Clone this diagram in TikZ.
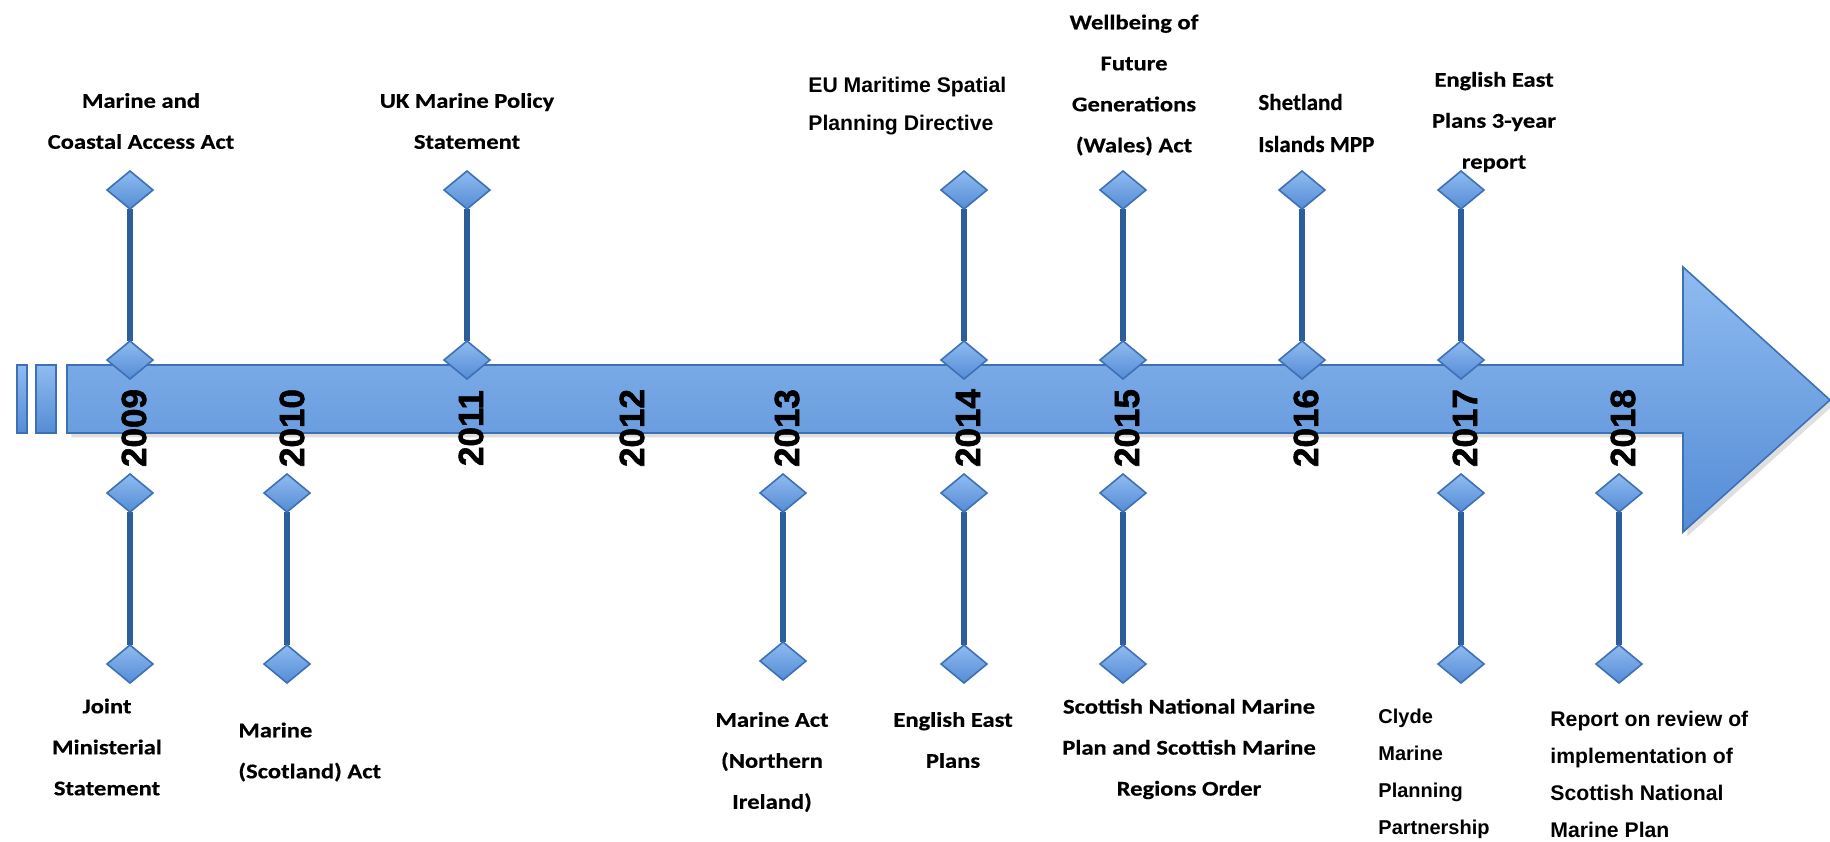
\documentclass[tikz,border=0pt]{standalone}
\usepackage{fontspec}
\usetikzlibrary{shapes.geometric,shadows,backgrounds}
\newfontfamily\calibwide[FakeStretch=1.17, FakeBold=0.4]{Carlito}
\newfontfamily\calibplain[FakeBold=0.4]{Carlito}
\newfontfamily\arialfont{Liberation Sans}
\newfontfamily\yearfont[FakeBold=1.6]{Liberation Sans Bold}
\definecolor{barTop}{RGB}{143,187,240}
\definecolor{barBottom}{RGB}{84,140,214}
\definecolor{barEdge}{RGB}{62,112,180}
\definecolor{stemBlue}{RGB}{44,93,157}

\begin{document}
\begin{tikzpicture}[
  x = 0.5pt, y = -0.5pt,
  event/.style = {
    shape = diamond,
    draw = barEdge,
    line width = 0.8pt,
    top color = barTop,
    bottom color = barBottom,
    minimum width = 23pt,
    minimum height = 19pt,
    inner sep = 0pt,
    outer sep = 0pt,
  },
  stem/.style = {draw = stemBlue, line width = 2.6pt},
  yearlabel/.style = {
    rotate = 90,
    inner sep = 0pt,
    font = \yearfont\fontsize{17.5}{20}\selectfont,
  },
  note/.style = {
    align = center,
    inner sep = 0pt,
    font = \calibwide\bfseries\fontsize{10.5}{20.5}\selectfont,
  },
  leftnote/.style = {note, align = left, anchor = west},
]
  \useasboundingbox (0, 0) rectangle (1830, 841);

  % timeline arrow
  \filldraw[draw = barEdge, line width = 0.8pt, top color = barTop,
    bottom color = barBottom, drop shadow = {opacity = 0.25}]
    (67, 365) -- (1683, 365) -- (1683, 267) -- (1830, 400)
    -- (1683, 532) -- (1683, 433) -- (67, 433) -- cycle;
  \filldraw[draw = barEdge, line width = 0.8pt, top color = barTop,
    bottom color = barBottom] (17, 365) rectangle (27, 433);
  \filldraw[draw = barEdge, line width = 0.8pt, top color = barTop,
    bottom color = barBottom] (36, 365) rectangle (56, 433);

  % events above the line
  \node[event] (t09) at (130, 190) {};
  \node[event] (u09) at (130, 360) {};
  \node[event] (t11) at (467, 190) {};
  \node[event] (u11) at (467, 360) {};
  \node[event] (t14) at (964, 190) {};
  \node[event] (u14) at (964, 360) {};
  \node[event] (t15) at (1123, 190) {};
  \node[event] (u15) at (1123, 360) {};
  \node[event] (t16) at (1302, 190) {};
  \node[event] (u16) at (1302, 360) {};
  \node[event] (t17) at (1461, 190) {};
  \node[event] (u17) at (1461, 360) {};

  % events below the line
  \node[event] (d09) at (130, 493) {};
  \node[event] (b09) at (130, 664) {};
  \node[event] (d10) at (287, 493) {};
  \node[event] (b10) at (287, 664) {};
  \node[event] (d13) at (783, 493) {};
  \node[event] (b13) at (783, 661) {};
  \node[event] (d14) at (964, 493) {};
  \node[event] (b14) at (964, 664) {};
  \node[event] (d15) at (1123, 493) {};
  \node[event] (b15) at (1123, 664) {};
  \node[event] (d17) at (1461, 493) {};
  \node[event] (b17) at (1461, 664) {};
  \node[event] (d18) at (1619, 493) {};
  \node[event] (b18) at (1619, 664) {};

  \begin{scope}[on background layer]
    \draw[stem] (t09) -- (u09);
    \draw[stem] (t11) -- (u11);
    \draw[stem] (t14) -- (u14);
    \draw[stem] (t15) -- (u15);
    \draw[stem] (t16) -- (u16);
    \draw[stem] (t17) -- (u17);
    \draw[stem] (d09) -- (b09);
    \draw[stem] (d10) -- (b10);
    \draw[stem] (d13) -- (b13);
    \draw[stem] (d14) -- (b14);
    \draw[stem] (d15) -- (b15);
    \draw[stem] (d17) -- (b17);
    \draw[stem] (d18) -- (b18);
  \end{scope}

  % years
  \foreach \yr/\px in {2009/134, 2010/292, 2011/471, 2012/632, 2013/787,
                       2014/968, 2015/1127, 2016/1306, 2017/1465, 2018/1623}
    \node[yearlabel] (y\yr) at (\px, 428) {\yr};

  % texts above
  \node[note] (n09t) at (141, 121) {Marine and\\Coastal Access Act};
  \node[note] (n11t) at (467, 121) {UK Marine Policy\\Statement};
  \node[leftnote, font = \arialfont\bfseries\fontsize{10.6}{19}\selectfont]
    (n14t) at (808, 106) {EU Maritime Spatial\\Planning Directive};
  \node[note] (n15t) at (1134, 85)
    {Wellbeing of\\Future\\Generations\\(Wales) Act};
  \node[leftnote, font = \calibplain\bfseries\fontsize{11.5}{21}\selectfont]
    (n16t) at (1258, 123) {Shetland\\Islands MPP};
  \node[note] (n17t) at (1494, 122) {English East\\Plans 3-year\\report};

  % texts below
  \node[note] (n09b) at (107, 747) {Joint\\Ministerial\\Statement};
  \node[leftnote] (n10b) at (238, 752) {Marine\\(Scotland) Act};
  \node[note] (n13b) at (772, 762) {Marine Act\\(Northern\\Ireland)};
  \node[note] (n14b) at (953, 740) {English East\\Plans};
  \node[note] (n15b) at (1189, 749)
    {Scottish National Marine\\Plan and Scottish Marine\\Regions Order};
  \node[leftnote, font = \arialfont\bfseries\fontsize{10}{18.5}\selectfont]
    (n17b) at (1378, 774) {Clyde\\Marine\\Planning\\Partnership};
  \node[leftnote, font = \arialfont\bfseries\fontsize{10.6}{18.5}\selectfont]
    (n18b) at (1550, 774)
    {Report on review of\\implementation of\\Scottish National\\Marine Plan};
\end{tikzpicture}
\end{document}
